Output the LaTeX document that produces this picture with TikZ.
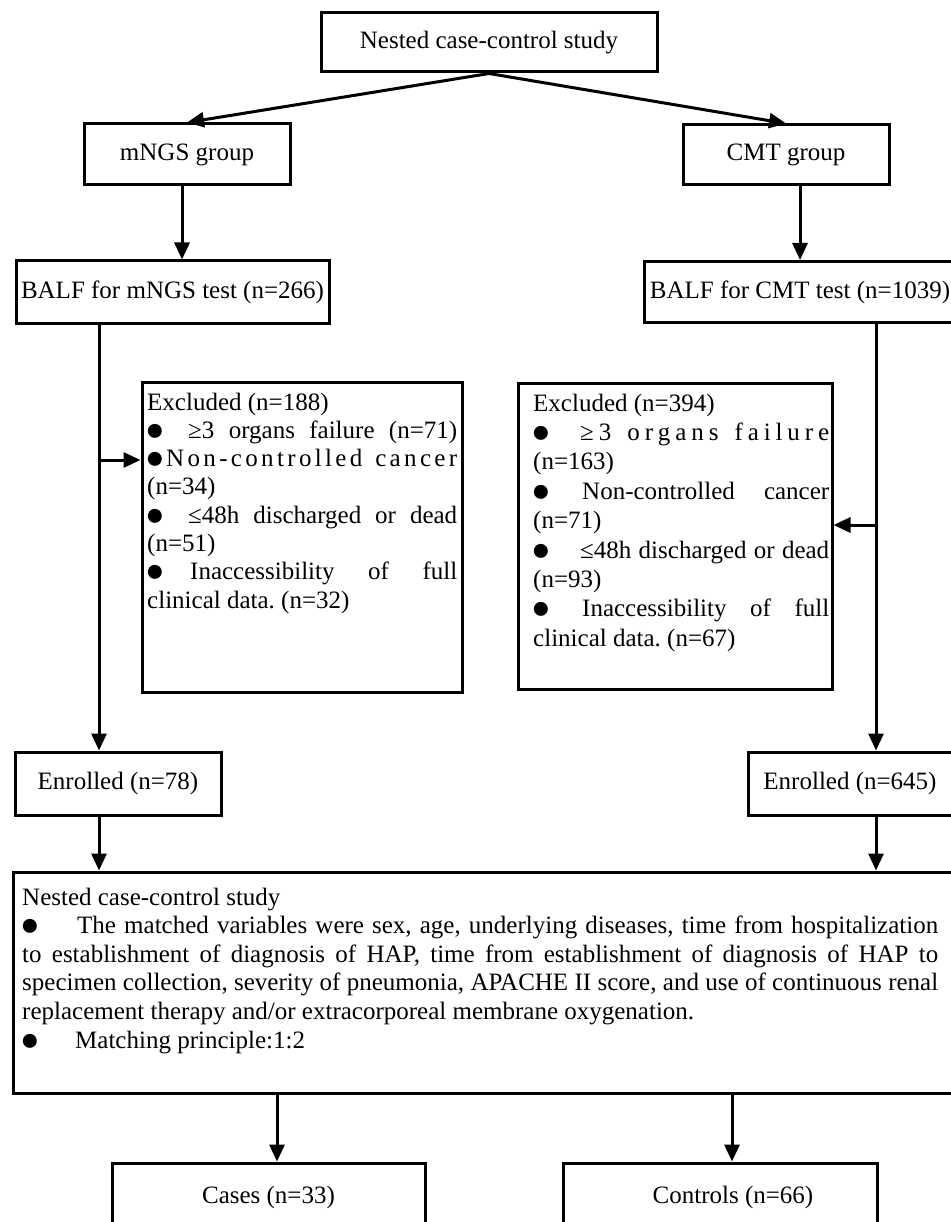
\documentclass[tikz,border=0pt]{standalone}
\usepackage{fontspec}
\setmainfont{Liberation Serif}
\usetikzlibrary{arrows.meta}
\newcommand{\bul}[1]{\makebox[#1][l]{\hspace*{-2pt}\smash{\raisebox{-2pt}{\fontsize{32.5}{32.5}\selectfont ●}}}}
\newcommand{\normsp}{\spaceskip=0pt \xspaceskip=0pt \frenchspacing}
\begin{document}
\begin{tikzpicture}[x=1pt,y=-1pt,
  box/.style={draw, line width=3pt, rectangle, inner sep=0pt, font=\fontsize{25}{29}\selectfont},
  txt/.style={inner sep=0pt, align=left, anchor=base west},
  arr/.style={line width=3pt, -{Triangle[length=17pt,width=15pt]}},
  ln/.style={line width=3pt}]
\useasboundingbox (0,0) rectangle (950,1222);
\fill[white] (0,0) rectangle (950,1222);

% boxes
\node[box, minimum width=336pt, minimum height=59pt] (top) at (489,42.5) {Nested case-control study};
\node[box, minimum width=206pt, minimum height=61pt] (mngs) at (187,154.5) {mNGS group};
\node[box, minimum width=206pt, minimum height=60pt] (cmt) at (786,155) {CMT group};
\node[box, minimum width=313pt, minimum height=62pt] (balfm) at (172.5,292) {BALF for mNGS test (n=266)};
\node[box, minimum width=312pt, minimum height=61pt] (balfc) at (800,292) {BALF for CMT test (n=1039)};
\node[box, minimum width=320pt, minimum height=310pt] (exclL) at (302,537) {};
\node[box, minimum width=314pt, minimum height=306pt] (exclR) at (675,536) {};
\node[box, minimum width=206pt, minimum height=63pt] (enr78) at (118,783.5) {Enrolled (n=78)};
\node[box, minimum width=204pt, minimum height=63pt] (enr645) at (850,783.5) {Enrolled (n=645)};
\node[box, minimum width=942pt, minimum height=221pt] (nested) at (484,982.5) {};
\node[box, minimum width=313pt, minimum height=68pt] (cases) at (268.5,1197) {Cases (n=33)};
\node[box, minimum width=314pt, minimum height=68pt] (controls) at (720,1197) {\hspace*{26pt}Controls (n=66)};

% box texts
\node[txt, text width=310pt, font=\fontsize{25}{28.3}\selectfont] (exclLt) at (147,410) {\normsp
Excluded (n=188)\\
\makebox[310pt][s]{\bul{41pt}≥3 organs failure (n=71)}\\
\makebox[310pt][s]{\bul{19pt}N\hfil o\hfil n\hfil -\hfil c\hfil o\hfil n\hfil t\hfil r\hfil o\hfil l\hfil l\hfil e\hfil d\hfil\ \hfil c\hfil a\hfil n\hfil c\hfil e\hfil r}\\
(n=34)\\
\makebox[310pt][s]{\bul{41pt}≤48h discharged or dead}\\
(n=51)\\
\makebox[310pt][s]{\bul{43pt}Inaccessibility of full}\\
clinical data. (n=32)};

\node[txt, text width=296pt, font=\fontsize{25}{29.4}\selectfont] (exclRt) at (533,411) {\normsp
Excluded (n=394)\\
\makebox[296pt][s]{\bul{47pt}≥\hfil 3\hfil\ \hfil o\hfil r\hfil g\hfil a\hfil n\hfil s\hfil\ \hfil f\hfil a\hfil i\hfil l\hfil u\hfil r\hfil e}\\
(n=163)\\
\makebox[296pt][s]{\bul{49pt}Non-controlled cancer}\\
(n=71)\\
\makebox[296pt][s]{\bul{47pt}≤48h discharged or dead}\\
(n=93)\\
\makebox[296pt][s]{\bul{49pt}Inaccessibility of full}\\
clinical data. (n=67)};

\node[txt, text width=916pt, font=\fontsize{25}{28.6}\selectfont] (nestedt) at (22,905) {\normsp
Nested case-control study\\
\makebox[916pt][s]{\bul{55pt}The matched variables were sex, age, underlying diseases, time from hospitalization}\\
\makebox[916pt][s]{to establishment of diagnosis of HAP, time from establishment of diagnosis of HAP to}\\
\makebox[916pt][s]{specimen collection, severity of pneumonia, APACHE II score, and use of continuous renal}\\
replacement therapy and/or extracorporeal membrane oxygenation.\\
\bul{53pt}Matching principle:1:2};

% helper coordinates
\coordinate (mx) at (182,0);
\coordinate (lx) at (99,0);
\coordinate (rx) at (876,0);
\coordinate (lb) at (99,460);
\coordinate (rb) at (876,525);
\coordinate (ca) at (277,0);
\coordinate (co) at (732,0);

% connectors
\draw[arr] (top.south) -- (mngs.north);
\draw[arr] (top.south) -- (cmt.north);
\draw[arr] (mngs.south -| mx) -- (balfm.north -| mx);
\draw[arr] (cmt.south -| balfc.north) -- (balfc.north);
\draw[arr] (balfm.south -| lx) -- (enr78.north -| lx);
\draw[arr] (lb) -- (lb -| exclL.west);
\draw[arr] (balfc.south -| rx) -- (enr645.north -| rx);
\draw[arr] (rb) -- (rb -| exclR.east);
\draw[arr] (enr78.south -| lx) -- (nested.north -| lx);
\draw[arr] (enr645.south -| rx) -- (nested.north -| rx);
\draw[arr] (nested.south -| ca) -- (cases.north -| ca);
\draw[arr] (nested.south -| co) -- (controls.north -| co);
\end{tikzpicture}
\end{document}
